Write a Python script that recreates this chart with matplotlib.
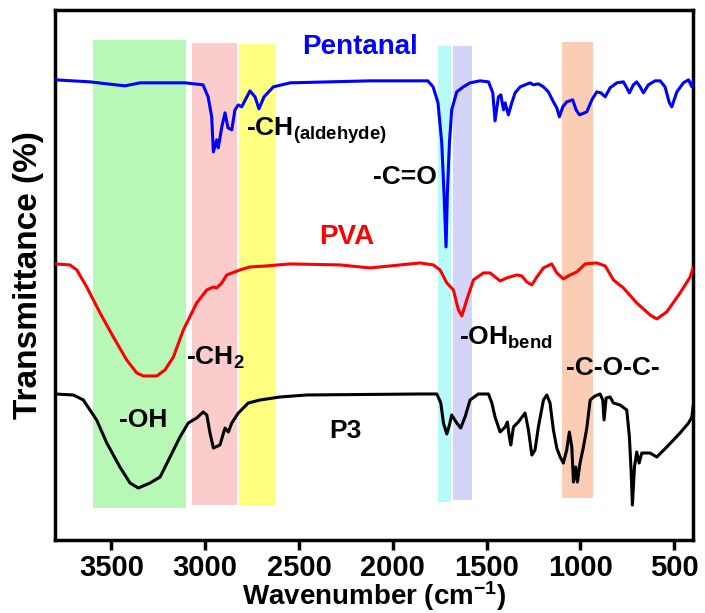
import numpy as np
import matplotlib
matplotlib.use('Agg')
import matplotlib.pyplot as plt

plt.rcParams['font.family'] = ['Liberation Sans', 'DejaVu Sans']
plt.rcParams['font.weight'] = 'bold'
plt.rcParams['mathtext.fontset'] = 'custom'
plt.rcParams['mathtext.rm'] = 'Liberation Sans:bold'
plt.rcParams['mathtext.bf'] = 'Liberation Sans:bold'
plt.rcParams['mathtext.default'] = 'rm'

# FTIR spectra (wavenumber in cm-1, transmittance in a.u.)
pentanal_wn = [3800, 3613, 3524, 3427, 3347, 3107, 3011, 2984, 2965, 2956, 2938, 2930, 2911,
               2894, 2878, 2858, 2841, 2823, 2805, 2761, 2734, 2713, 2686, 2636, 2547, 2121,
               1813, 1785, 1759, 1739, 1727, 1716, 1709, 1698, 1686, 1659, 1624, 1588, 1535,
               1490, 1467, 1455, 1437, 1424, 1410, 1401, 1384, 1366, 1348, 1321, 1268, 1251,
               1224, 1197, 1171, 1144, 1126, 1112, 1094, 1073, 1041, 1023, 1005, 966, 939,
               913, 891, 868, 842, 806, 771, 753, 739, 718, 700, 682, 664, 638, 602, 575,
               549, 526, 513, 486, 451, 424, 406, 400]
pentanal_t = [460, 458, 456, 454, 457, 457, 455, 443, 423, 388, 400, 392, 413,
              427, 412, 410, 430, 435, 433, 449, 443, 431, 443, 453, 457, 459,
              459, 453, 437, 397, 347, 293, 347, 397, 430, 448, 453, 457, 459,
              458, 447, 419, 443, 445, 430, 437, 425, 437, 447, 453, 457, 455,
              456, 453, 448, 438, 432, 423, 433, 438, 440, 430, 425, 428, 440,
              448, 447, 443, 452, 457, 458, 452, 447, 455, 458, 453, 447, 455, 459, 459,
              453, 437, 433, 448, 457, 460, 453, 458]

pva_wn = [3800, 3720, 3684, 3631, 3560, 3489, 3418, 3364, 3329, 3258, 3214, 3169, 3116,
          3045, 2991, 2956, 2938, 2911, 2885, 2814, 2761, 2672, 2547, 2281, 2121, 1961,
          1854, 1784, 1748, 1712, 1677, 1650, 1632, 1606, 1570, 1517, 1481, 1455, 1428,
          1392, 1339, 1312, 1286, 1259, 1232, 1197, 1153, 1126, 1091, 1055, 1019, 975,
          913, 868, 824, 771, 700, 629, 593, 540, 469, 415, 400]
pva_t = [276, 275, 270, 253, 227, 203, 180, 167, 164, 164, 170, 183, 210,
         237, 250, 253, 252, 257, 265, 270, 273, 274, 276, 275, 272, 275,
         277, 275, 270, 257, 250, 230, 224, 240, 260, 267, 267, 263, 259,
         262, 265, 264, 258, 255, 263, 272, 276, 267, 261, 265, 268, 276,
         277, 274, 260, 252, 237, 225, 221, 228, 247, 263, 272]

p3_wn = [3800, 3702, 3649, 3578, 3524, 3454, 3400, 3356, 3294, 3240, 3187, 3134, 3090,
         3045, 3010, 2991, 2974, 2956, 2921, 2894, 2876, 2858, 2823, 2770, 2707, 2601,
         2458, 1854, 1765, 1744, 1730, 1712, 1698, 1686, 1659, 1638, 1615, 1588, 1544,
         1490, 1472, 1455, 1428, 1401, 1389, 1379, 1371, 1357, 1331, 1295, 1277, 1259,
         1242, 1224, 1197, 1179, 1162, 1144, 1126, 1108, 1091, 1073, 1059, 1046, 1037,
         1025, 1016, 1002, 984, 966, 948, 922, 895, 881, 874, 863, 842, 824, 789, 753,
         739, 730, 723, 712, 700, 687, 673, 629, 593, 540, 469, 424, 406, 400]
p3_t = [146, 145, 140, 120, 97, 73, 57, 52, 57, 63, 83, 103, 117,
        122, 128, 125, 107, 92, 95, 112, 108, 117, 127, 137, 140, 143,
        145, 146, 146, 137, 117, 106, 115, 125, 117, 112, 123, 140, 146,
        146, 137, 123, 108, 113, 118, 103, 95, 113, 118, 127, 110, 85,
        90, 113, 140, 145, 137, 110, 92, 83, 77, 90, 108, 93, 58,
        73, 58, 77, 93, 112, 140, 144, 146, 140, 120, 142, 143, 137, 135, 130,
        103, 70, 35, 73, 88, 77, 87, 87, 83, 93, 107, 117, 123, 133]

# highlighted band regions
band_hi = [3600, 3070, 2820, 1760, 1680, 1100]
band_lo = [3100, 2830, 2620, 1690, 1580, 935]
band_bottom = [32, 35, 34, 38, 40, 42]
band_top = [500, 497, 496, 494, 494, 498]
band_colors = ['#b7f8b7', '#facccc', '#ffff80', '#b7fafa', '#d4d4f8', '#facdb4']

tick_vals = [3500, 3000, 2500, 2000, 1500, 1000, 500]

fig = plt.figure(figsize=(7.05, 6.13), dpi=100)
ax = fig.add_axes([0.078, 0.119, 0.905, 0.865])

for hi, lo, b, t, c in zip(band_hi, band_lo, band_bottom, band_top, band_colors):
    ax.fill_between([lo, hi], b, t, color=c, lw=0, zorder=1)

ax.plot(pentanal_wn, pentanal_t, color='#0000ff', lw=2.2, zorder=3)
ax.plot(pva_wn, pva_t, color='#ff0000', lw=2.2, zorder=3)
ax.plot(p3_wn, p3_t, color='black', lw=2.2, zorder=3)

ax.set_xlim(3800, 400)
ax.set_ylim(0, 530)
ax.set_xticks(tick_vals)
ax.set_xticklabels([str(v) for v in tick_vals], fontsize=21, fontweight='bold')
ax.set_yticks([])
ax.tick_params(axis='x', direction='out', length=7, width=2.5, pad=3)
for sp in ax.spines.values():
    sp.set_linewidth(2.5)

ax.set_xlabel('Wavenumber (cm$^{\\mathregular{-1}}$)', fontsize=20,
              fontweight='bold', labelpad=-2)
ax.set_ylabel('Transmittance (%)', fontsize=24, fontweight='bold', labelpad=8)

# labels
ax.text(2174, 493, 'Pentanal', color='#0000ff', fontsize=20, fontweight='bold', ha='center', va='center')
ax.text(2244, 303, 'PVA', color='#ff0000', fontsize=20, fontweight='bold', ha='center', va='center')
ax.text(2254, 109, 'P3', color='black', fontsize=19, fontweight='bold', ha='center', va='center')
ax.text(2782, 409, '-CH$_{\\mathregular{(aldehyde)}}$', fontsize=19, fontweight='bold', ha='left', va='center')
ax.text(1764, 363, '-C=O', fontsize=19, fontweight='bold', ha='right', va='center')
ax.text(3102, 182, '-CH$_2$', fontsize=19, fontweight='bold', ha='left', va='center')
ax.text(3331, 120, '-OH', fontsize=19, fontweight='bold', ha='center', va='center')
ax.text(1647, 202, '-OH$_{\\mathregular{bend}}$', fontsize=19, fontweight='bold', ha='left', va='center')
ax.text(1076, 172, '-C-O-C-', fontsize=19, fontweight='bold', ha='left', va='center')

fig.savefig('out.png', dpi=100)
